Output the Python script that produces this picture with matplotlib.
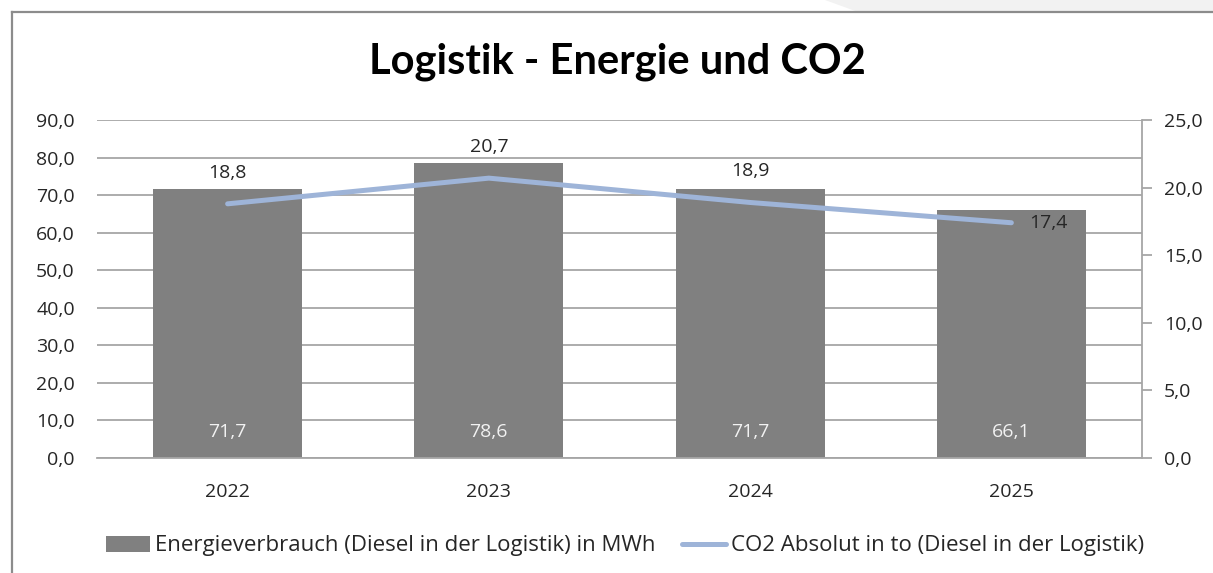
import numpy as np
import matplotlib.pyplot as plt
from matplotlib.lines import Line2D
from matplotlib.patches import Polygon

years = ['2022', '2023', '2024', '2025']
energie_mwh = [71.7, 78.6, 71.7, 66.1]
co2_to = [18.8, 20.7, 18.9, 17.4]

bar_label = 'Energieverbrauch (Diesel in der Logistik) in MWh'
line_label = 'CO2 Absolut in to (Diesel in der Logistik)'

plt.rcParams['font.family'] = ['Open Sans', 'DejaVu Sans']
txt = '#262626'
grid_col = '#a6a6a6'
bar_col = '#808080'
line_col = '#9eb4d8'
fs = 14

fig = plt.figure(figsize=(12.13, 5.73), dpi=100)
W, H = 1213, 573

# light grey shape top right + chart frame
fig.patches.append(Polygon([(825 / W, 1), (1, 1), (1, 1 - 12 / H), (858 / W, 1 - 12 / H)],
                           closed=True, transform=fig.transFigure, facecolor='#f2f2f2',
                           edgecolor='none', zorder=0))
fig.add_artist(Line2D([12 / W, 12 / W], [0, 1 - 12 / H], transform=fig.transFigure,
                      color='#8c8c8c', lw=1.6))
fig.add_artist(Line2D([12 / W, 1], [1 - 12 / H, 1 - 12 / H], transform=fig.transFigure,
                      color='#8c8c8c', lw=1.6))

ax = fig.add_axes([97 / W, 1 - 458 / H, (1142 - 97) / W, (458 - 120) / H])
x = np.arange(len(years))
bars = ax.bar(x, energie_mwh, width=0.57, color=bar_col, zorder=2, label=bar_label)
ax.set_xlim(-0.5, len(years) - 0.5)
ax.set_ylim(0, 90)
ax.set_yticks(np.arange(0, 91, 10))
ax.set_yticklabels([f'{v:.1f}'.replace('.', ',') for v in np.arange(0, 91, 10)])
ax.yaxis.grid(True, color=grid_col, lw=1.3, zorder=0)
ax.set_axisbelow(True)
ax.set_xticks(x)
ax.set_xticklabels(years)
for s in ['top', 'left', 'right']:
    ax.spines[s].set_visible(False)
ax.spines['bottom'].set_color(grid_col)
ax.spines['bottom'].set_linewidth(1.3)
ax.tick_params(axis='y', length=0, pad=16, labelsize=fs, labelcolor=txt)
ax.tick_params(axis='x', length=0, pad=18, labelsize=fs, labelcolor=txt)

for xi, v in zip(x, energie_mwh):
    ax.annotate(f'{v:.1f}'.replace('.', ','), (xi, 0), xytext=(0, 26),
                textcoords='offset pixels', ha='center', va='center',
                fontsize=fs, color='#f2f2f2', fontweight='medium')

ax2 = ax.twinx()
ln, = ax2.plot(x, co2_to, color=line_col, lw=3.6, zorder=3, label=line_label,
               solid_capstyle='round')
ax2.set_ylim(0, 25)
ax2.set_yticks(np.arange(0, 26, 5))
ax2.set_yticklabels([f'{v:.1f}'.replace('.', ',') for v in np.arange(0, 26, 5)])
for s in ['top', 'left', 'bottom']:
    ax2.spines[s].set_visible(False)
ax2.spines['right'].set_color(grid_col)
ax2.spines['right'].set_linewidth(1.3)
ax2.tick_params(axis='y', length=7, width=1.3, color=grid_col, pad=9,
                labelsize=fs, labelcolor=txt)

for i, v in enumerate(co2_to):
    lab = f'{v:.1f}'.replace('.', ',')
    if i == len(co2_to) - 1:
        ax2.annotate(lab, (x[i], v), xytext=(18, 0), textcoords='offset pixels',
                     ha='left', va='center', fontsize=fs, color=txt)
    else:
        ax2.annotate(lab, (x[i], v), xytext=(0, 31), textcoords='offset pixels',
                     ha='center', va='center', fontsize=fs, color=txt)

fig.text(617 / W, 1 - 62 / H, 'Logistik - Energie und CO2', ha='center', va='center',
         family=['Lato', 'DejaVu Sans'], fontsize=30, fontweight='bold', color='black')

fig.legend([bars, ln], [bar_label, line_label], loc='center', ncol=2,
           bbox_to_anchor=(625 / W, 1 - 546 / H), frameon=False, fontsize=16,
           labelcolor=txt, handlelength=2.0, handletextpad=0.2, columnspacing=1.2,
           handleheight=0.7)

fig.savefig('out.png', dpi=100, facecolor='white')
